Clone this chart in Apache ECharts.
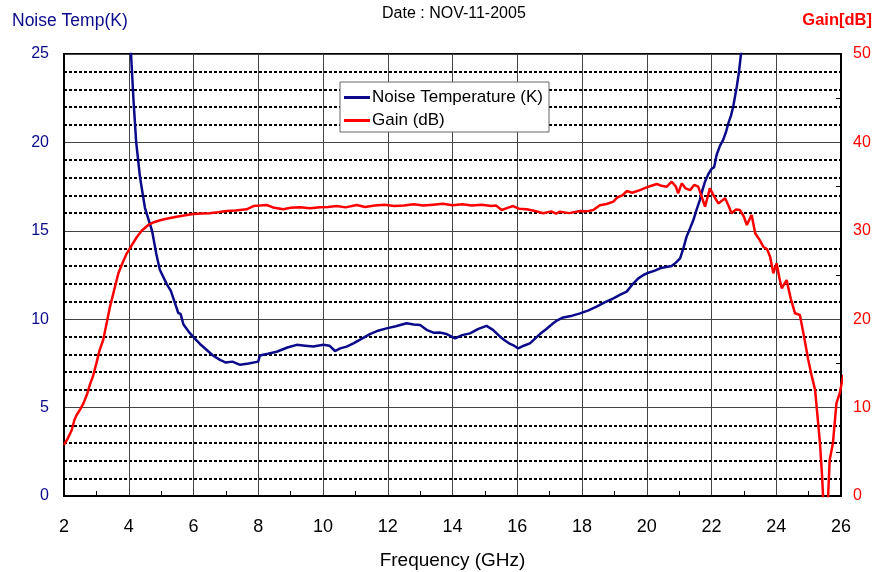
<!DOCTYPE html>
<html lang="en">
<head>
    <meta charset="UTF-8" />
    <title>Noise Temperature / Gain</title>
    <script src="https://cdn.jsdelivr.net/npm/echarts@6/dist/echarts.min.js"></script>
    <style>
        body { margin: 0; background: #fff; }
        #chart { width: 878px; height: 572px; }
    </style>
</head>
<body>
<div id="chart"></div>
<script type="text/javascript">
    // GHz / K
    const noiseFreq = [4.0, 4.07, 4.15, 4.23, 4.35, 4.5, 4.72, 4.85, 4.96, 5.17, 5.3, 5.43, 5.53, 5.6, 5.69, 5.85, 5.99,
        6.2, 6.41, 6.6, 6.82, 7.0, 7.2, 7.44, 7.7, 8.0, 8.05, 8.3, 8.57, 8.9, 9.19, 9.45, 9.7, 10.01, 10.2, 10.37,
        10.53, 10.73, 10.94, 11.2, 11.45, 11.7, 11.96, 12.25, 12.58, 12.8, 13.0, 13.2, 13.41, 13.6, 13.82, 14.08,
        14.3, 14.54, 14.8, 15.05, 15.25, 15.47, 15.62, 15.78, 15.9, 16.03, 16.2, 16.39, 16.55, 16.7, 16.9, 17.11,
        17.25, 17.42, 17.7, 17.94, 18.2, 18.45, 18.7, 18.97, 19.2, 19.38, 19.55, 19.74, 19.9, 20.05, 20.25, 20.41,
        20.6, 20.77, 20.9, 21.03, 21.13, 21.23, 21.34, 21.44, 21.54, 21.64, 21.72, 21.8, 21.9, 22.0, 22.08, 22.16,
        22.26, 22.36, 22.45, 22.52, 22.6, 22.67, 22.78, 22.85, 22.91, 23.0];
    const noiseK = [26.5, 25.0, 22.3, 20.0, 18.0, 16.3, 15.0, 13.7, 12.8, 12.0, 11.6, 10.9, 10.35, 10.3, 9.7, 9.3, 9.0,
        8.6, 8.26, 7.95, 7.7, 7.55, 7.6, 7.42, 7.5, 7.6, 7.95, 8.05, 8.16, 8.4, 8.55, 8.5, 8.45, 8.55, 8.5, 8.2,
        8.35, 8.45, 8.63, 8.9, 9.16, 9.35, 9.48, 9.6, 9.77, 9.7, 9.67, 9.4, 9.24, 9.25, 9.16, 8.92,
        9.1, 9.2, 9.45, 9.62, 9.4, 9.01, 8.8, 8.6, 8.5, 8.35, 8.5, 8.63, 8.9, 9.16, 9.45, 9.77,
        9.95, 10.1, 10.2, 10.33, 10.5, 10.71, 10.95, 11.18, 11.4, 11.56, 11.95, 12.31, 12.5, 12.63, 12.75, 12.88,
        12.95, 13.01, 13.2, 13.44, 14.0, 14.67, 15.15, 15.61, 16.2, 16.74, 17.3, 17.78, 18.2, 18.5, 18.6, 19.3,
        19.8, 20.14, 20.6, 21.08, 21.5, 22.02, 23.15, 24.0, 25.0, 26.5];

    // GHz / dB
    const gainFreq = [2.0, 2.1, 2.24, 2.32, 2.39, 2.5, 2.6, 2.72, 2.8, 2.9, 3.0, 3.1, 3.21, 3.32, 3.42, 3.55, 3.68, 3.8,
        3.94, 4.1, 4.25, 4.4, 4.6, 4.8, 4.97, 5.2, 5.48, 5.75, 5.99, 6.25, 6.5, 6.75, 7.02, 7.3, 7.64, 7.85, 8.05,
        8.26, 8.5, 8.77, 9.0, 9.29, 9.6, 9.91, 10.15, 10.42, 10.7, 11.04, 11.3, 11.6, 11.9, 12.2, 12.5, 12.8, 13.1,
        13.4, 13.7, 14.0, 14.3, 14.6, 14.9, 15.2, 15.35, 15.52, 15.7, 15.87, 16.05, 16.29, 16.55, 16.8, 17.05, 17.2,
        17.32, 17.6, 17.94, 18.15, 18.35, 18.55, 18.76, 18.97, 19.1, 19.25, 19.38, 19.55, 19.79, 20.05, 20.31, 20.45,
        20.62, 20.77, 20.9, 20.97, 21.08, 21.2, 21.34, 21.47, 21.59, 21.7, 21.8, 21.95, 22.08, 22.21, 22.32, 22.42,
        22.52, 22.62, 22.75, 22.88, 23.0, 23.09, 23.24, 23.35, 23.48, 23.6, 23.72, 23.81, 23.91, 24.01, 24.1, 24.17,
        24.32, 24.45, 24.58, 24.73, 24.86, 24.99, 25.1, 25.2, 25.35, 25.42, 25.47, 25.58, 25.62, 25.65, 25.75, 25.86,
        25.96, 26.07];
    const gainDb = [5.8, 6.4, 7.47, 8.6, 9.16, 9.8, 10.48, 11.6, 12.6, 13.6, 15.0, 16.5, 17.65, 19.6, 21.4, 23.3, 25.2, 26.3,
        27.45, 28.4, 29.3, 30.0, 30.66, 31.0, 31.2, 31.4, 31.6, 31.75, 31.9, 31.95, 31.98, 32.1, 32.24, 32.3, 32.43, 32.8, 32.85,
        32.92, 32.6, 32.43, 32.6, 32.66, 32.55, 32.66, 32.7, 32.8, 32.65, 32.92, 32.7, 32.85, 32.95, 32.8, 32.85, 33.0, 32.85,
        32.95, 33.05, 32.9, 33.0, 32.85, 32.95, 32.8, 32.85, 32.35, 32.6, 32.8, 32.5, 32.43, 32.25, 31.98, 32.2, 31.95,
        32.16, 32.0, 32.24, 32.2, 32.35, 32.9, 33.03, 33.3, 33.8, 34.0, 34.5, 34.3, 34.6, 34.99, 35.29, 35.1,
        34.99, 35.55, 35.0, 34.24, 35.37, 34.8, 34.6, 35.2, 34.99, 33.8, 32.73, 34.8, 33.9, 33.1, 33.4, 33.68,
        32.9, 31.98, 32.4, 32.35, 31.6, 30.66, 31.8, 29.72, 29.0, 28.2, 27.9, 27.07, 25.19, 26.32, 24.6, 23.5,
        24.43, 22.3, 20.67, 20.48, 18.0, 15.38, 13.5, 12.0, 6.0, 2.0, -2, -2, 1.5, 4.07, 5.96, 10.5,
        11.6, 13.7];

    const navy = '#0a0a8a';
    const red = '#ff0000';
    const font = 'Liberation Sans, Arial, sans-serif';

    function pairs(xs, ys) {
        return xs.map((x, i) => [x, ys[i]]);
    }

    let chart = echarts.init(document.getElementById('chart'), null, { renderer: 'canvas' });
    chart.setOption({
        animation: false,
        backgroundColor: '#fff',
        title: [
            { text: 'Date : NOV-11-2005', left: 377, top: 1,
              textStyle: { fontFamily: font, fontSize: 16, fontWeight: 'normal', color: '#000' } },
            { text: 'Noise Temp(K)', left: 7, top: 7,
              textStyle: { fontFamily: font, fontSize: 17.5, fontWeight: 'normal', color: navy } },
            { text: 'Gain[dB]', right: 1, top: 7,
              textStyle: { fontFamily: font, fontSize: 16.5, fontWeight: 'bold', color: red } }
        ],
        legend: {
            left: 340, top: 82, orient: 'vertical',
            backgroundColor: '#fff', borderColor: '#666', borderWidth: 1,
            padding: [7, 6, 3, 4], itemGap: 6,
            icon: 'rect', itemWidth: 26, itemHeight: 3,
            textStyle: { fontFamily: font, fontSize: 17, color: '#000', padding: [0, 0, 0, -3] },
            data: ['Noise Temperature (K)', 'Gain (dB)']
        },
        grid: { left: 64, right: 37, top: 54, bottom: 76, show: true, outerBoundsMode: 'none',
                containLabel: false, borderColor: '#000', borderWidth: 2, backgroundColor: 'transparent' },
        xAxis: {
            type: 'value', min: 2, max: 26, interval: 2,
            name: 'Frequency (GHz)', nameLocation: 'middle', nameGap: 55,
            nameTextStyle: { fontFamily: font, fontSize: 19, color: '#000' },
            axisLine: { lineStyle: { color: '#000', width: 2 } },
            axisTick: { show: false, inside: true },
            minorTick: { show: true, splitNumber: 2, length: 5, lineStyle: { color: '#000' } },
            axisLabel: { fontFamily: font, fontSize: 18, color: '#000', margin: 22 },
            splitLine: { lineStyle: { color: '#444', width: 1 } }
        },
        yAxis: [
            {
                type: 'value', min: 0, max: 25, interval: 5,
                axisLine: { show: true, lineStyle: { color: '#000', width: 2 } },
                axisTick: { show: false },
                axisLabel: { fontFamily: font, fontSize: 16, color: navy, margin: 15 },
                splitLine: { lineStyle: { color: '#444', width: 1 } },
                minorTick: { show: false, splitNumber: 5 },
                minorSplitLine: { show: true, lineStyle: { color: '#000', width: 2, type: [3, 2] } }
            },
            {
                type: 'value', min: 0, max: 50, interval: 10, position: 'right',
                axisLine: { show: true, lineStyle: { color: '#000', width: 2 } },
                axisTick: { show: false, inside: true },
                minorTick: { show: true, splitNumber: 2, length: 5, lineStyle: { color: '#000' } },
                axisLabel: { fontFamily: font, fontSize: 16, color: red, margin: 12 },
                splitLine: { show: false }
            }
        ],
        series: [
            {
                name: 'Noise Temperature (K)', type: 'line', yAxisIndex: 0,
                data: pairs(noiseFreq, noiseK), showSymbol: false, clip: true,
                lineStyle: { color: navy, width: 2.5 }, itemStyle: { color: navy }, z: 3
            },
            {
                name: 'Gain (dB)', type: 'line', yAxisIndex: 1,
                data: pairs(gainFreq, gainDb), showSymbol: false, clip: true,
                lineStyle: { color: red, width: 2.5 }, itemStyle: { color: red }, z: 4
            }
        ]
    });
</script>
</body>
</html>
